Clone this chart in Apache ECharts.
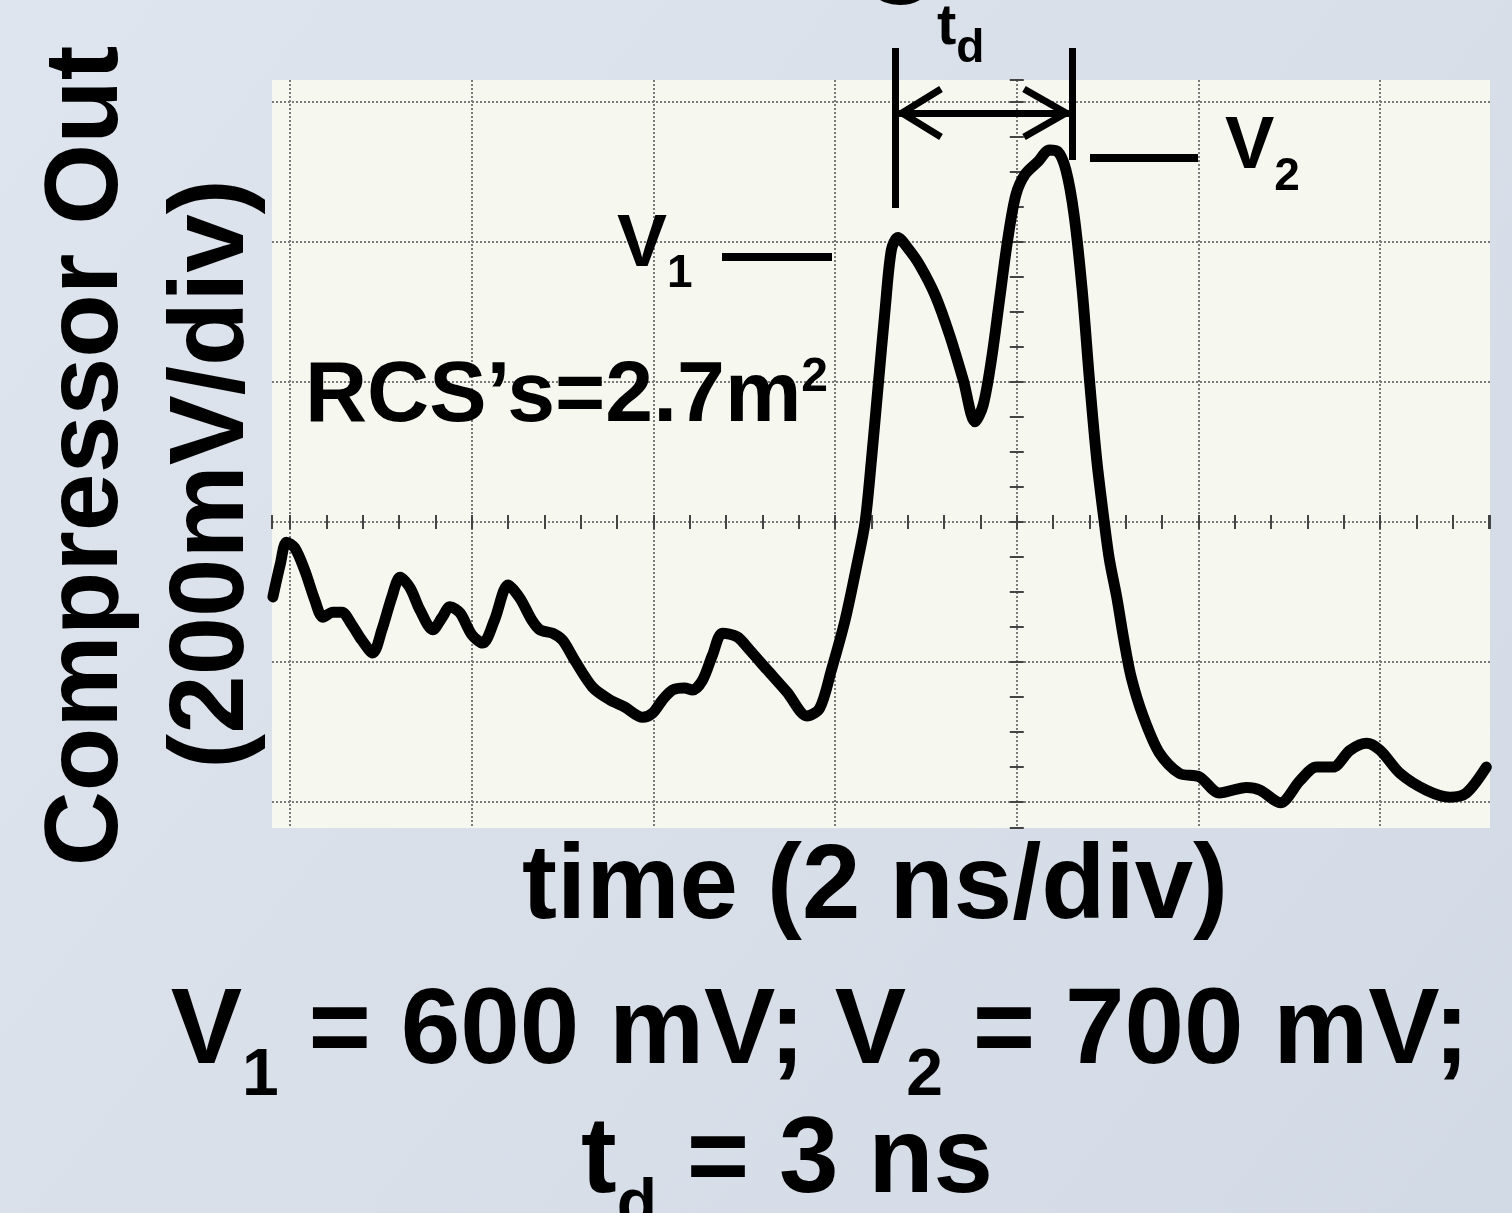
<!doctype html>
<html>
<head>
<meta charset="UTF-8">
<title>Compressor Out</title>
<style>
  html, body { margin: 0; padding: 0; background: #d8dfe9; }
  #chart { width: 1512px; height: 1213px; }
</style>
</head>
<body>
<div id="chart"></div>
<script src="https://cdn.jsdelivr.net/npm/echarts@6.0.0/dist/echarts.min.js"></script>
<script>
// scope trace, time from the screen centre (ns), level from the centre line (mV)
var timeNs = [-8.19, -8.11, -8.04, -7.95, -7.84, -7.73, -7.64, -7.53, -7.43, -7.32, -7.21, -7.09,
  -6.99, -6.88, -6.79, -6.68, -6.57, -6.43, -6.33, -6.24, -6.13, -6.00, -5.88, -5.75,
  -5.60, -5.47, -5.34, -5.25, -5.11, -5.00, -4.87, -4.67, -4.48, -4.32, -4.12, -4.01,
  -3.90, -3.79, -3.66, -3.57, -3.46, -3.35, -3.24, -3.08, -2.94, -2.75, -2.53, -2.31,
  -2.17, -2.04, -1.89, -1.76, -1.67, -1.60, -1.53, -1.45, -1.38, -1.31, -1.20, -1.07,
  -0.90, -0.74, -0.59, -0.46, -0.37, -0.28, -0.19, -0.10, -0.01, 0.09, 0.23, 0.36,
  0.45, 0.54, 0.63, 0.72, 0.80, 0.88, 0.96, 1.02, 1.10, 1.18, 1.26, 1.39,
  1.57, 1.79, 2.01, 2.23, 2.53, 2.68, 2.90, 3.12, 3.30, 3.48, 3.67, 3.85,
  4.00, 4.22, 4.51, 4.77, 4.95, 5.17];
var voltMv = [-107, -61, -29, -37, -69, -111, -136, -129, -129, -147, -169, -187,
  -154, -107, -79, -94, -126, -154, -137, -121, -130, -161, -173, -140,
  -90, -109, -140, -154, -159, -169, -197, -236, -254, -264, -279, -273,
  -254, -240, -237, -240, -226, -190, -159, -164, -183, -211, -243, -277,
  -266, -211, -140, -61, 0, 89, 189, 303, 389, 406, 391, 367,
  324, 267, 203, 143, 167, 231, 317, 403, 467, 496, 514, 531,
  529, 503, 439, 331, 203, 89, 3, -54, -107, -169, -222, -277,
  -330, -359, -364, -387, -379, -383, -401, -369, -350, -350, -326, -316,
  -326, -359, -383, -393, -387, -350];

// visible part of the graticule
var timeRange = [-8.2, 5.21];
var voltRange = [-437, 631];
var nsPerDiv = 2;
var mvPerDiv = 200;

var font = '"Liberation Sans", Arial, Helvetica, sans-serif';
var tickStyle = { color: '#444', width: 2 };
var gridStyle = { color: '#7a7a7a', width: 2, type: [2, 2] };

function timeAxis(gridIndex, inside) {
  return {
    type: 'value', gridIndex: gridIndex,
    min: timeRange[0], max: timeRange[1],
    minInterval: nsPerDiv, maxInterval: nsPerDiv,
    axisLine: { show: false, onZero: true },
    axisLabel: { show: false },
    axisTick: { show: true, inside: inside, length: 7, lineStyle: tickStyle },
    minorTick: { show: true, splitNumber: 5, length: 7, lineStyle: tickStyle },
    splitLine: { show: gridIndex === 0, showMinLine: false, showMaxLine: false, lineStyle: gridStyle }
  };
}
function voltAxis(gridIndex, inside) {
  return {
    type: 'value', gridIndex: gridIndex,
    min: voltRange[0], max: voltRange[1],
    minInterval: mvPerDiv, maxInterval: mvPerDiv,
    axisLine: { show: false, onZero: true },
    axisLabel: { show: false },
    axisTick: { show: true, inside: inside, length: 7, lineStyle: tickStyle },
    minorTick: { show: true, splitNumber: 4, length: 7, lineStyle: tickStyle },
    splitLine: { show: gridIndex === 0, showMinLine: false, showMaxLine: false, lineStyle: gridStyle }
  };
}

var plotBox = { left: 272, top: 80, width: 1218, height: 748 };

// label with a lowered (subscript) part
function subText(x, y, text, size, subSize, subPad, align) {
  return {
    type: 'text', x: x, y: y, z: 20,
    style: {
      text: text, x: 0, y: 0, fill: '#000',
      align: align || 'left', verticalAlign: 'top',
      textAlign: align || 'left', textVerticalAlign: 'top',
      rich: {
        m: { fontSize: size, lineHeight: size, fontWeight: 'bold', fontFamily: font, fill: '#000', verticalAlign: 'top' },
        s: { fontSize: subSize, lineHeight: subSize, fontWeight: 'bold', fontFamily: font, fill: '#000', verticalAlign: 'top', padding: [subPad, 0, 0, 0] }
      }
    }
  };
}
function plainText(x, y, text, size, rot) {
  return {
    type: 'text', x: x, y: y, rotation: rot || 0, z: 20,
    style: {
      text: text, x: 0, y: 0, fill: '#000',
      fontSize: size, fontWeight: 'bold', fontFamily: font,
      align: 'center', verticalAlign: 'middle',
      textAlign: 'center', textVerticalAlign: 'middle'
    }
  };
}
function bar(x, y, w, h) {
  return { type: 'rect', z: 20, shape: { x: x, y: y, width: w, height: h }, style: { fill: '#000' } };
}
function stroke(points) {
  return { type: 'polyline', z: 20, shape: { points: points }, style: { stroke: '#000', lineWidth: 7, fill: null, lineJoin: 'miter' } };
}

var chart = echarts.init(document.getElementById('chart'), null, { renderer: 'canvas' });
chart.setOption({
  animation: false,
  backgroundColor: {
    type: 'linear', x: 0, y: 0, x2: 1, y2: 1,
    colorStops: [{ offset: 0, color: '#dfe5ee' }, { offset: 1, color: '#d2dae5' }]
  },
  grid: [
    { left: plotBox.left, top: plotBox.top, width: plotBox.width, height: plotBox.height,
      show: true, backgroundColor: '#f6f8f0', borderWidth: 0, containLabel: false, outerBoundsMode: 'none' },
    { left: plotBox.left, top: plotBox.top, width: plotBox.width, height: plotBox.height,
      show: false, containLabel: false, outerBoundsMode: 'none' }
  ],
  xAxis: [timeAxis(0, false), timeAxis(1, true)],
  yAxis: [voltAxis(0, false), voltAxis(1, true)],
  series: [{
    type: 'line', xAxisIndex: 0, yAxisIndex: 0,
    data: timeNs.map(function (t, i) { return [t, voltMv[i]]; }),
    symbol: 'none', smooth: 0.3, clip: true, silent: true, z: 5,
    lineStyle: { color: '#000', width: 11, cap: 'round', join: 'round' }
  }],
  graphic: [
    // axis titles
    plainText(88, 456, 'Compressor Out', 104, Math.PI / 2),
    plainText(214, 474, '(200mV/div)', 105, Math.PI / 2),
    plainText(875, 889, 'time (2 ns/div)', 105),
    subText(820, 980, '{m|V}{s|1}{m| = 600 mV; V}{s|2}{m| = 700 mV;}', 107, 66, 64, 'center'),
    subText(787, 1109, '{m|t}{s|d}{m| = 3 ns}', 107, 66, 65, 'center'),
    // cut-off glyph at the very top
    plainText(900, -25, 'O', 104),
    // annotations inside the plot
    {
      type: 'text', x: 305, y: 354, z: 20,
      style: {
        text: '{m|RCS\u2019s=2.7m}{p|2}', x: 0, y: 0, fill: '#000',
        align: 'left', verticalAlign: 'top', textAlign: 'left', textVerticalAlign: 'top',
        rich: {
          m: { fontSize: 86, lineHeight: 86, fontWeight: 'bold', fontFamily: font, fill: '#000', verticalAlign: 'top' },
          p: { fontSize: 48, lineHeight: 48, fontWeight: 'bold', fontFamily: font, fill: '#000', verticalAlign: 'top' }
        }
      }
    },
    subText(617, 208, '{m|V}{s|1}', 75, 46, 43),
    bar(722, 253, 110, 8),
    subText(1225, 111, '{m|V}{s|2}', 74, 46, 43),
    bar(1090, 154, 108, 8),
    // t_d marker
    bar(892, 48, 7, 160),
    bar(1069, 48, 7, 112),
    bar(899, 110, 170, 7),
    stroke([[941, 89], [902, 113], [941, 137]]),
    stroke([[1024, 89], [1066, 113], [1024, 137]]),
    subText(937, -1, '{m|t}{s|d}', 58, 46, 27)
  ]
});
</script>
</body>
</html>
